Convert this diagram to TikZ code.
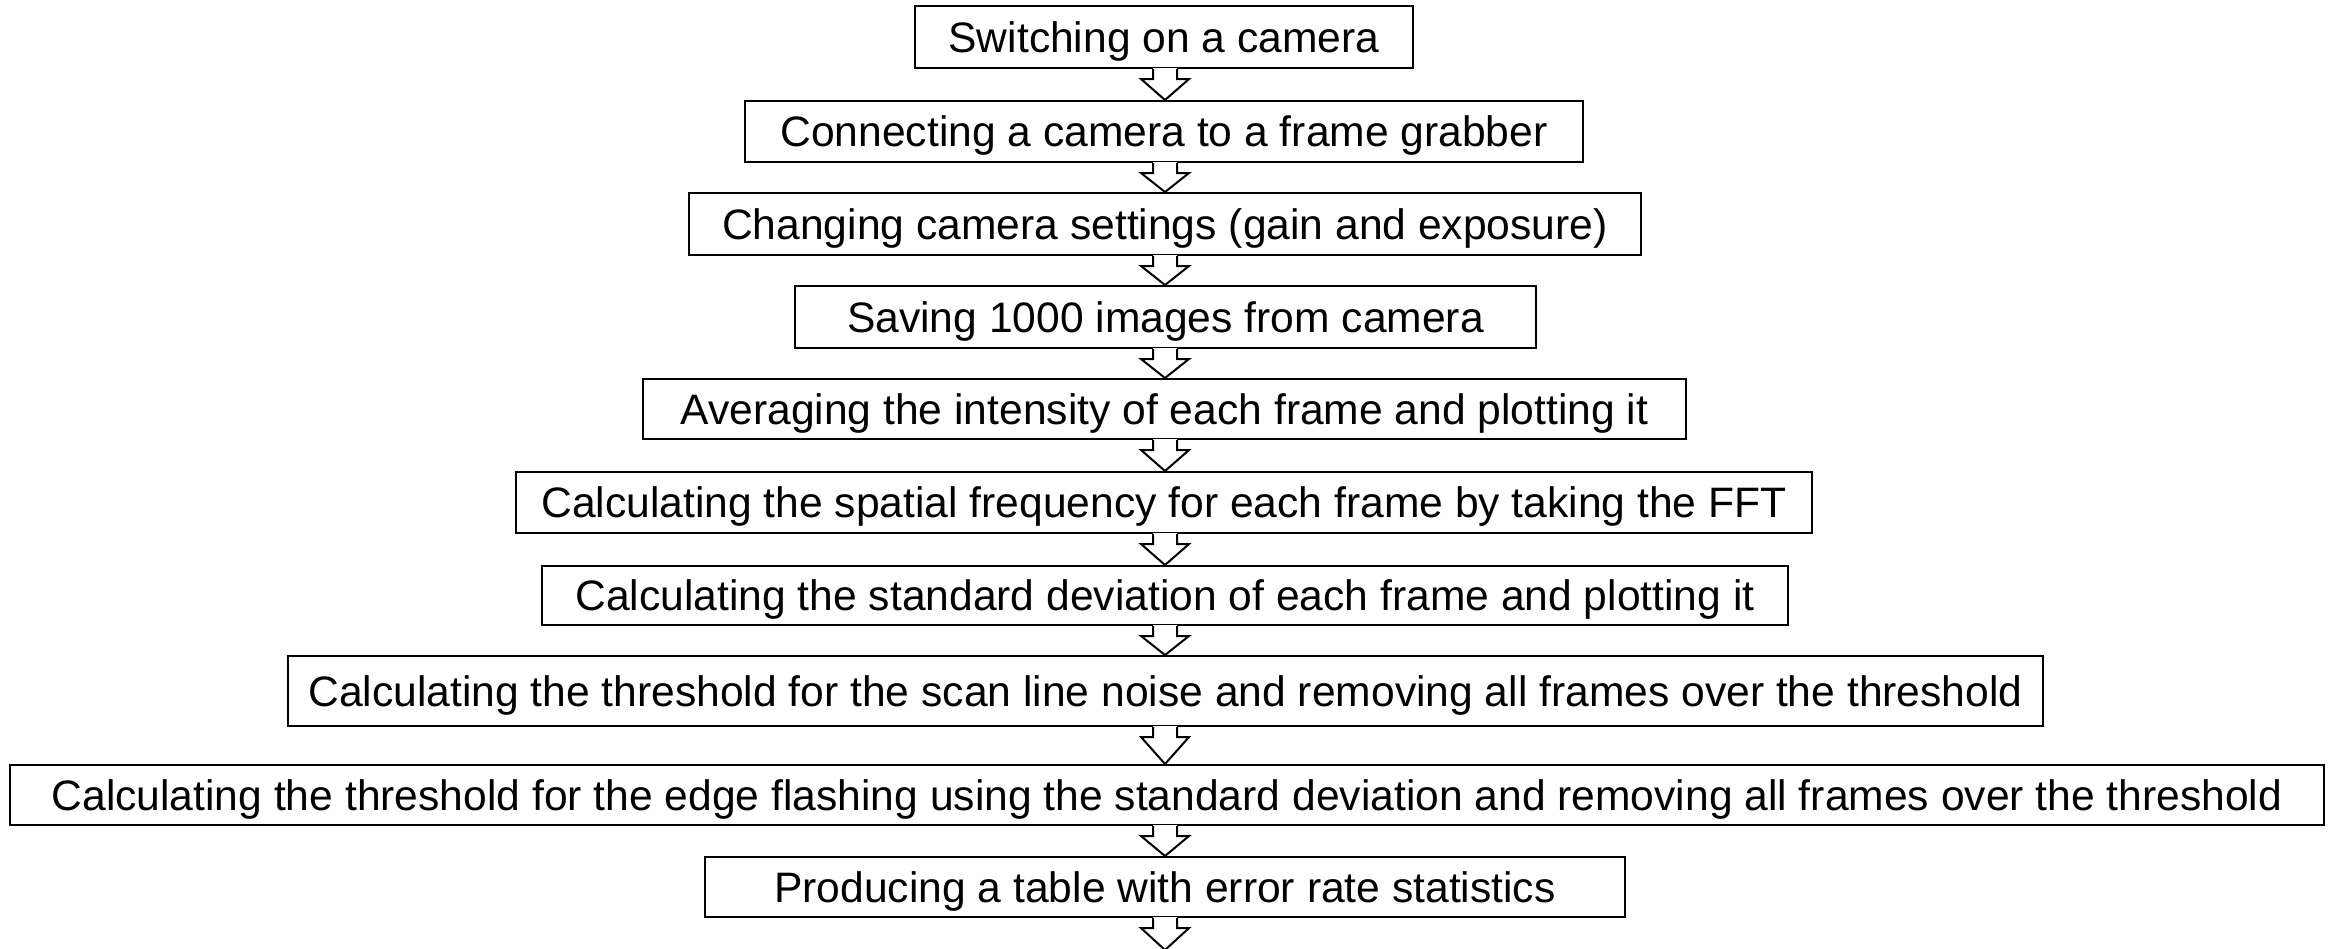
\documentclass[tikz,border=0pt]{standalone}
\usepackage{fontspec}
\setmainfont{Liberation Sans}
\usetikzlibrary{calc}
\tikzset{
  stepbox/.style={draw=black, line width=2pt, fill=white, inner sep=0pt,
    text height=30pt, text depth=0pt, font=\fontsize{42.6}{50}\selectfont},
  arrowline/.style={draw=black, line width=2pt, line join=miter},
}
\newcommand{\boxat}[6]{% name, x1, x2, y1, y2, text
  \node[stepbox, minimum width={#3-#2}, minimum height={#5-#4}] (#1) at ({(#2+#3)/2},{(#4+#5)/2}) {#6};}
\newcommand{\blockarrow}[2]{%
  \fill[white] let \p1=(#1.south), \p2=(#2) in
    (1165pt-12pt,\y1+1pt) -- (1165pt-12pt,\y1-10pt) -- (1165pt-24pt,\y1-10pt) -- (1165pt,\y2)
    -- (1165pt+24pt,\y1-10pt) -- (1165pt+12pt,\y1-10pt) -- (1165pt+12pt,\y1+1pt) -- cycle;
  \draw[arrowline] let \p1=(#1.south), \p2=(#2) in
    (1165pt-12pt,\y1) -- (1165pt-12pt,\y1-10pt) -- (1165pt-24pt,\y1-10pt) -- (1165pt,\y2)
    -- (1165pt+24pt,\y1-10pt) -- (1165pt+12pt,\y1-10pt) -- (1165pt+12pt,\y1);}
\begin{document}
\begin{tikzpicture}[x=1pt,y=-1pt]
\useasboundingbox (0,0) rectangle (2333,948);
\boxat{b1}{915}{1413}{6}{68}{Switching on a camera}
\boxat{b2}{745}{1583}{101}{162}{Connecting a camera to a frame grabber}
\boxat{b3}{689}{1641}{193}{255}{Changing camera settings (gain and exposure)}
\boxat{b4}{795}{1536}{286}{348}{Saving 1000 images from camera}
\boxat{b5}{643}{1686}{379}{439}{Averaging the intensity of each frame and plotting it}
\boxat{b6}{516}{1812}{472}{533}{Calculating the spatial frequency for each frame by taking the FFT}
\boxat{b7}{542}{1788}{566}{625}{Calculating the standard deviation of each frame and plotting it}
\boxat{b8}{288}{2043}{656}{726}{Calculating the threshold for the scan line noise and removing all frames over the threshold}
\boxat{b9}{10}{2324}{765}{825}{Calculating the threshold for the edge flashing using the standard deviation and removing all frames over the threshold}
\boxat{b10}{705}{1625}{857}{917}{Producing a table with error rate statistics}
\coordinate (end) at (1165,950);
\blockarrow{b1}{b2.north}
\blockarrow{b2}{b3.north}
\blockarrow{b3}{b4.north}
\blockarrow{b4}{b5.north}
\blockarrow{b5}{b6.north}
\blockarrow{b6}{b7.north}
\blockarrow{b7}{b8.north}
\blockarrow{b8}{b9.north}
\blockarrow{b9}{b10.north}
\blockarrow{b10}{end}
\end{tikzpicture}
\end{document}
